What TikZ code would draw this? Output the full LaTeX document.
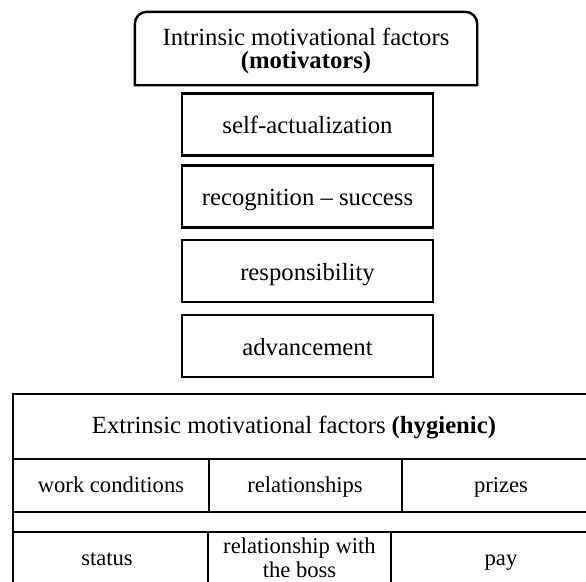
\documentclass[tikz,border=0pt]{standalone}
\usepackage{fontspec}
\setmainfont{Liberation Serif}
\begin{document}
\begin{tikzpicture}[x=1pt,y=-1pt,
  bigfont/.style={font=\fontsize{24.7}{23}\selectfont},
  factorbox/.style={draw,line width=2.4pt,inner sep=0pt,minimum width=251pt,minimum height=62pt,text height=18pt,text depth=0pt,bigfont},
  cell/.style={draw,line width=2.4pt,inner sep=0pt},
  linetext/.style={inner sep=0pt,anchor=base},
  celltext/.style={font=\fontsize{22.6}{24}\selectfont,align=center,inner sep=0pt}]
\useasboundingbox (0,0) rectangle (586,581);
\clip (0,0) rectangle (586,581);
% top rounded box
\node[inner sep=0pt,minimum width=342pt,minimum height=73pt] (top) at (306,48.5) {};
\draw[line width=2.4pt] (top.south west) -- ([yshift=-12pt]top.north west) arc[start angle=180,end angle=90,radius=12pt] -- ([xshift=-12pt]top.north east) arc[start angle=90,end angle=0,radius=12pt] -- (top.south east) -- cycle;
\node[linetext,bigfont] (top1) at (306,45) {Intrinsic motivational factors};
\node[linetext,bigfont] (top2) at (306,68) {\textbf{(motivators)}};
% motivator boxes
\node[factorbox] (b1) at (307.5,124.5) {self-actualization};
\node[factorbox] (b2) at (307.5,196.5) {recognition -- success};
\node[factorbox] (b3) at (307.5,271) {responsibility};
\node[factorbox] (b4) at (307.5,346) {advancement};
% table cells
\node[cell,minimum width=592pt,minimum height=65pt] (hdr) at (309,426.5) {};
\node[cell,minimum width=196pt,minimum height=53pt] (c21) at (111,485.5) {};
\node[cell,minimum width=193pt,minimum height=53pt] (c22) at (305.5,485.5) {};
\node[cell,minimum width=203pt,minimum height=53pt] (c23) at (503.5,485.5) {};
\node[cell,minimum width=592pt,minimum height=20pt] (gap) at (309,522) {};
\node[cell,minimum width=195pt,minimum height=98pt] (c41) at (110.5,581) {};
\node[cell,minimum width=183pt,minimum height=98pt] (c42) at (299.5,581) {};
\node[cell,minimum width=214pt,minimum height=98pt] (c43) at (498,581) {};
% table texts
\node[linetext,bigfont] (hdrt) at (294,433) {Extrinsic motivational factors \textbf{(hygienic)}};
\node[linetext,celltext] (t21) at (111,492) {work conditions};
\node[linetext,celltext] (t22) at (305,492) {relationships};
\node[linetext,celltext] (t23) at (501,492) {prizes};
\node[linetext,celltext] (t41) at (107,565) {status};
\node[celltext] (t42) at (299.5,557.3) {relationship with\\the boss};
\node[linetext,celltext] (t43) at (501,565) {pay};
\end{tikzpicture}
\end{document}
